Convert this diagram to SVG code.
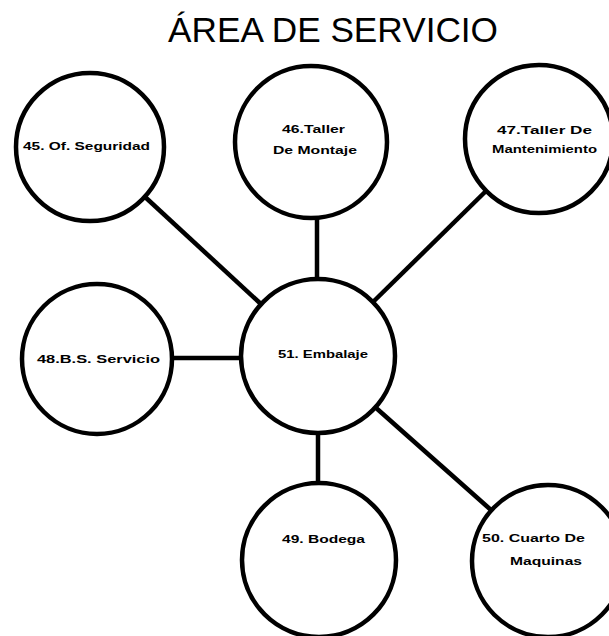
<svg xmlns="http://www.w3.org/2000/svg" width="609" height="636" viewBox="0 0 609 636">
<style>
.node circle{fill:#fff;stroke:#000;stroke-width:4.5}
.lbl{font-family:"Liberation Sans",Arial,sans-serif;font-weight:bold;font-size:11px;fill:#000}
.title{font-family:"Liberation Sans",Arial,sans-serif;font-size:35px;fill:#000}
#connectors line{stroke:#000;stroke-width:4.5;stroke-linecap:butt}
</style>
<rect width="609" height="636" fill="#fff"/>
<text class="title" x="168" y="42" textLength="330" lengthAdjust="spacingAndGlyphs">ÁREA DE SERVICIO</text>
<g id="connectors">
<line x1="144" y1="196" x2="262" y2="305"/>
<line x1="317" y1="218" x2="317" y2="280"/>
<line x1="373" y1="302" x2="486" y2="191"/>
<line x1="172" y1="358" x2="242" y2="358"/>
<line x1="318" y1="433" x2="318" y2="484"/>
<line x1="375" y1="407" x2="491" y2="510"/>
</g>
<g id="n45" class="node"><circle cx="90" cy="147" r="74"/><text class="lbl" x="23" y="150" textLength="127" lengthAdjust="spacingAndGlyphs">45. Of. Seguridad</text></g>
<g id="n46" class="node"><circle cx="311" cy="142" r="76"/><text class="lbl" x="282" y="133" textLength="63" lengthAdjust="spacingAndGlyphs">46.Taller</text><text class="lbl" x="273" y="154" textLength="84" lengthAdjust="spacingAndGlyphs">De Montaje</text></g>
<g id="n47" class="node"><circle cx="539" cy="139" r="74"/><text class="lbl" x="497" y="134" textLength="95" lengthAdjust="spacingAndGlyphs">47.Taller De</text><text class="lbl" x="492" y="153" textLength="105" lengthAdjust="spacingAndGlyphs">Mantenimiento</text></g>
<g id="n48" class="node"><circle cx="97" cy="359" r="75"/><text class="lbl" x="37" y="363" textLength="123" lengthAdjust="spacingAndGlyphs">48.B.S. Servicio</text></g>
<g id="n51" class="node"><circle cx="318" cy="356" r="77"/><text class="lbl" x="278" y="358" textLength="90" lengthAdjust="spacingAndGlyphs">51. Embalaje</text></g>
<g id="n49" class="node"><circle cx="319" cy="560" r="77"/><text class="lbl" x="282" y="543" textLength="83" lengthAdjust="spacingAndGlyphs">49. Bodega</text></g>
<g id="n50" class="node"><circle cx="548" cy="561" r="76"/><text class="lbl" x="482" y="542" textLength="103" lengthAdjust="spacingAndGlyphs">50. Cuarto De</text><text class="lbl" x="510" y="565" textLength="72" lengthAdjust="spacingAndGlyphs">Maquinas</text></g>
</svg>
